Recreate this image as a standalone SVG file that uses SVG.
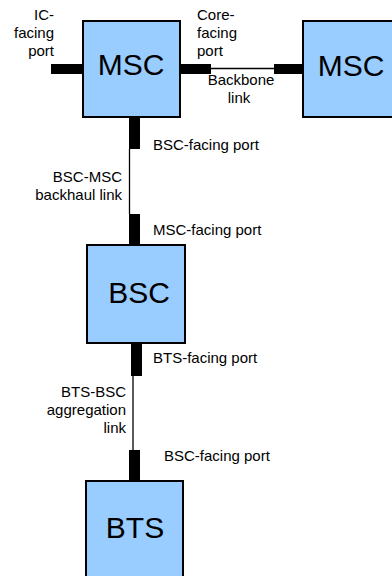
<svg xmlns="http://www.w3.org/2000/svg" width="392" height="576" viewBox="0 0 392 576">
<style>
.box{fill:#99ccff;stroke:#000;stroke-width:2}
.port{fill:#000}
.link{stroke:#000;stroke-width:1.3;fill:none}
.big{font-family:"Liberation Sans",Arial,sans-serif;font-size:30px;fill:#000;text-anchor:middle}
.lbl{font-family:"Liberation Sans",Arial,sans-serif;font-size:15px;fill:#000}
.r{text-anchor:end}
.m{text-anchor:middle}
</style>
<rect width="392" height="576" fill="#fff"/>
<g id="connectors">
<line class="link" x1="211" y1="68.5" x2="274" y2="68.5"/>
<line class="link" x1="129.5" y1="149" x2="129.5" y2="214"/>
<line class="link" x1="133" y1="376" x2="133" y2="450"/>
</g>
<g id="msc1">
<rect class="box" x="83" y="21" width="97" height="96"/>
<text class="big" x="131" y="75">MSC</text>
<rect class="port" x="51" y="64" width="32" height="10"/>
<rect class="port" x="180" y="64" width="31" height="10"/>
<rect class="port" x="129" y="117" width="11" height="32"/>
</g>
<g id="msc2">
<rect class="box" x="303" y="21" width="97" height="96"/>
<text class="big" x="351" y="76">MSC</text>
<rect class="port" x="274" y="64" width="29" height="10"/>
</g>
<g id="bsc">
<rect class="box" x="87" y="245" width="98" height="98"/>
<text class="big" x="139" y="303">BSC</text>
<rect class="port" x="129" y="214" width="11" height="31"/>
<rect class="port" x="131" y="343" width="11" height="33"/>
</g>
<g id="bts">
<rect class="box" x="86" y="481" width="97" height="110"/>
<text class="big" x="135" y="538">BTS</text>
<rect class="port" x="129" y="450" width="11" height="31"/>
</g>
<g id="labels">
<text class="lbl r" x="54" y="20">IC-</text>
<text class="lbl r" x="54" y="38">facing</text>
<text class="lbl r" x="54" y="56">port</text>
<text class="lbl" x="197" y="20">Core-</text>
<text class="lbl" x="197" y="38">facing</text>
<text class="lbl" x="197" y="56">port</text>
<text class="lbl m" x="241" y="85">Backbone</text>
<text class="lbl m" x="239" y="103">link</text>
<text class="lbl" x="153" y="150">BSC-facing port</text>
<text class="lbl r" x="122" y="182">BSC-MSC</text>
<text class="lbl r" x="122" y="200">backhaul link</text>
<text class="lbl" x="153" y="235">MSC-facing port</text>
<text class="lbl" x="153" y="363">BTS-facing port</text>
<text class="lbl r" x="126" y="397">BTS-BSC</text>
<text class="lbl r" x="126" y="415">aggregation</text>
<text class="lbl r" x="126" y="433">link</text>
<text class="lbl" x="164" y="461">BSC-facing port</text>
</g>
</svg>
